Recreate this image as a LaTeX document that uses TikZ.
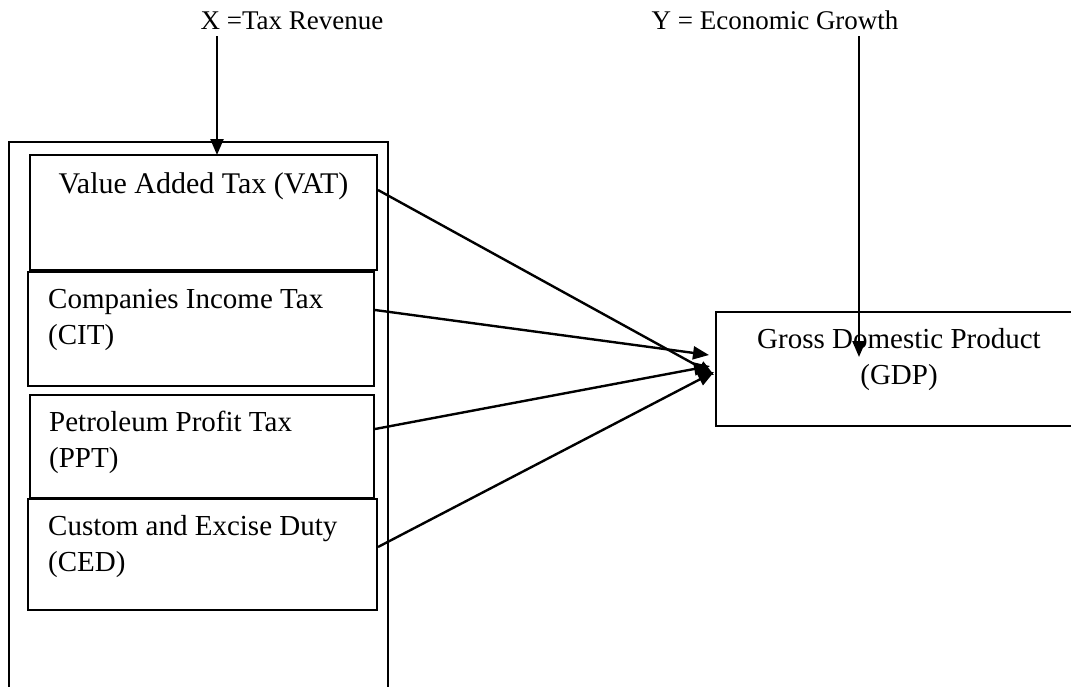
\documentclass[tikz,border=0pt]{standalone}
\usepackage{fontspec}
\setmainfont{Liberation Serif}
\usetikzlibrary{arrows.meta}

\tikzset{
  taxbox/.style={draw, line width=2pt, anchor=north west, inner sep=0pt},
  boxtext/.style={anchor=north west, align=left, inner sep=0pt, font=\fontsize{29}{36}\selectfont},
  toplabel/.style={anchor=base, inner sep=0pt, text depth=7pt, font=\fontsize{27}{33}\selectfont},
  flow/.style={line width=2.4pt, -{Triangle[length=16pt,width=13pt]}}
}

\begin{document}
\begin{tikzpicture}[x=1pt, y=-1pt]
    \useasboundingbox (0,0) rectangle (1071,686);

    % 顶部标签
    \node[toplabel] (xlabel) at (292,29) {X =Tax Revenue};
    \node[toplabel] (ylabel) at (775,29) {Y = Economic Growth};

    % 外框
    \draw[line width=2pt] (9,700) -- (9,142) -- (388,142) -- (388,700);

    % 四个税种
    \node[taxbox, minimum width=347pt, minimum height=115pt] (vat) at (29,154) {};
    \node[taxbox, minimum width=346pt, minimum height=114pt] (cit) at (27,271) {};
    \node[taxbox, minimum width=344pt, minimum height=103pt] (ppt) at (29,394) {};
    \node[taxbox, minimum width=349pt, minimum height=111pt] (ced) at (27,498) {};

    \node[boxtext, anchor=north, font=\fontsize{30}{36}\selectfont] (vatname) at ([yshift=-18pt]vat.north) {Value Added Tax (VAT)};
    \node[boxtext] (citname) at ([xshift=21pt,yshift=-18pt]cit.north west) {Companies Income Tax\\(CIT)};
    \node[boxtext] (pptname) at ([xshift=20pt,yshift=-17pt]ppt.north west) {Petroleum Profit Tax\\(PPT)};
    \node[boxtext] (cedname) at ([xshift=21pt,yshift=-17pt]ced.north west) {Custom and Excise Duty\\(CED)};

    % GDP
    \node[taxbox, minimum width=366pt, minimum height=114pt] (gdp) at (715,311) {};
    \node[boxtext, anchor=north, align=center] (gdpname) at ([yshift=-17pt]gdp.north) {Gross Domestic Product\\(GDP)};

    % 箭头
    \coordinate (xtip) at (217,155);
    \coordinate (ytip) at (859,357);
    \coordinate (tipvat) at (714,375);
    \coordinate (tipcit) at (709,355);
    \coordinate (tipppt) at (710,366);
    \coordinate (tipced) at (714,372);

    \draw[flow] (xlabel.south -| xtip) -- (xtip);
    \draw[flow] (ylabel.south -| ytip) -- (ytip);

    \draw[flow] (vat.east |- 0,190) -- (tipvat);
    \draw[flow] (cit.east |- 0,310) -- (tipcit);
    \draw[flow] (ppt.east |- 0,429) -- (tipppt);
    \draw[flow] (ced.east |- 0,547) -- (tipced);

\end{tikzpicture}
\end{document}
